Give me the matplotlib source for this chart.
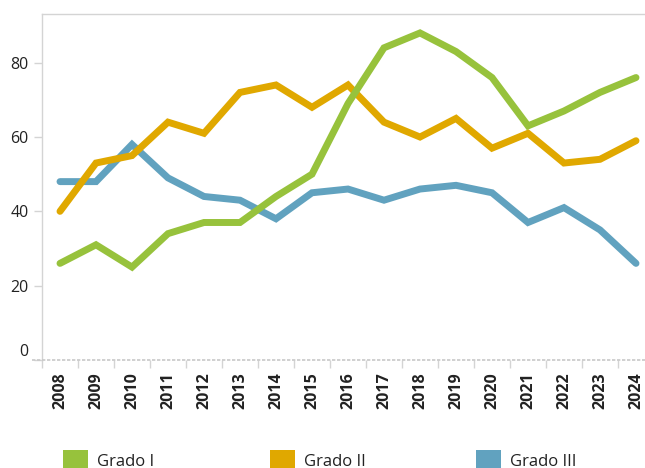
import matplotlib
matplotlib.use("Agg")
import matplotlib.pyplot as plt
from matplotlib.patches import Patch
from matplotlib.lines import Line2D

years = [str(y) for y in range(2008, 2025)]
grado_1 = [26, 31, 25, 34, 37, 37, 44, 50, 69, 84, 88, 83, 76, 63, 67, 72, 76]
grado_2 = [40, 53, 55, 64, 61, 72, 74, 68, 74, 64, 60, 65, 57, 61, 53, 54, 59]
grado_3 = [48, 48, 58, 49, 44, 43, 38, 45, 46, 43, 46, 47, 45, 37, 41, 35, 26]

series = [("Grado I", grado_1, "#97c23c"),
          ("Grado II", grado_2, "#e0a800"),
          ("Grado III", grado_3, "#61a2bf")]

plt.rcParams['font.family'] = ['Open Sans', 'DejaVu Sans']

W, H = 645, 468
fig = plt.figure(figsize=(W / 100, H / 100), dpi=100)
# band scale runs past the right edge of the canvas, like the original
ax = fig.add_axes([42 / W, 108 / H, 612 / W, 346 / H])

x = list(range(len(years)))
for i, (name, vals, col) in reversed(list(enumerate(series))):
    ax.plot(x, vals, color=col, linewidth=5, solid_capstyle='round',
            solid_joinstyle='miter', zorder=3 + (2 - i), clip_on=False)

ax.set_xlim(-0.5, len(years) - 0.5)
ax.set_ylim(0, 93.1)

grid_col = "#d4d4d4"
ax.set_yticks([0, 20, 40, 60, 80])
ax.tick_params(axis='y', length=6, width=1, color=grid_col, pad=3.5,
               labelsize=11.5, labelcolor="#222222")
for lab in ax.get_yticklabels():
    if lab.get_text() == "0":
        lab.set_va('bottom')

ax.set_xticks(x)
ax.set_xticklabels(years, rotation=90, fontweight='bold')
ax.tick_params(axis='x', which='major', length=0, pad=9, labelsize=11.5,
               labelcolor="#222222")
ax.set_xticks([v - 0.5 for v in range(len(years) + 1)], minor=True)
ax.tick_params(axis='x', which='minor', length=6, width=1, color=grid_col)
for lab in ax.get_xticklabels():
    lab.set_va('top')

for s in ['left', 'top']:
    ax.spines[s].set_color(grid_col)
    ax.spines[s].set_linewidth(1)
ax.spines['right'].set_visible(False)
ax.spines['bottom'].set_visible(False)

# dashed baseline, reaching a bit left of the y axis
fig.add_artist(Line2D([32 / W, 1], [108 / H, 108 / H], color="#c8c8c8",
                      linewidth=1.2, linestyle=(0, (2, 1))))

# legend: one entry per column
legend_x = [63, 270, 476]
for (name, vals, col), lx in zip(series, legend_x):
    leg = fig.legend(handles=[Patch(facecolor=col, edgecolor='none')],
                     labels=[name], loc='center left',
                     bbox_to_anchor=(lx / W, 8 / H), frameon=False,
                     borderpad=0, borderaxespad=0, handlelength=1.5,
                     handleheight=1.5, handletextpad=0.55, fontsize=12)
    for t in leg.get_texts():
        t.set_color("#222222")

fig.savefig("out.png", dpi=100)
